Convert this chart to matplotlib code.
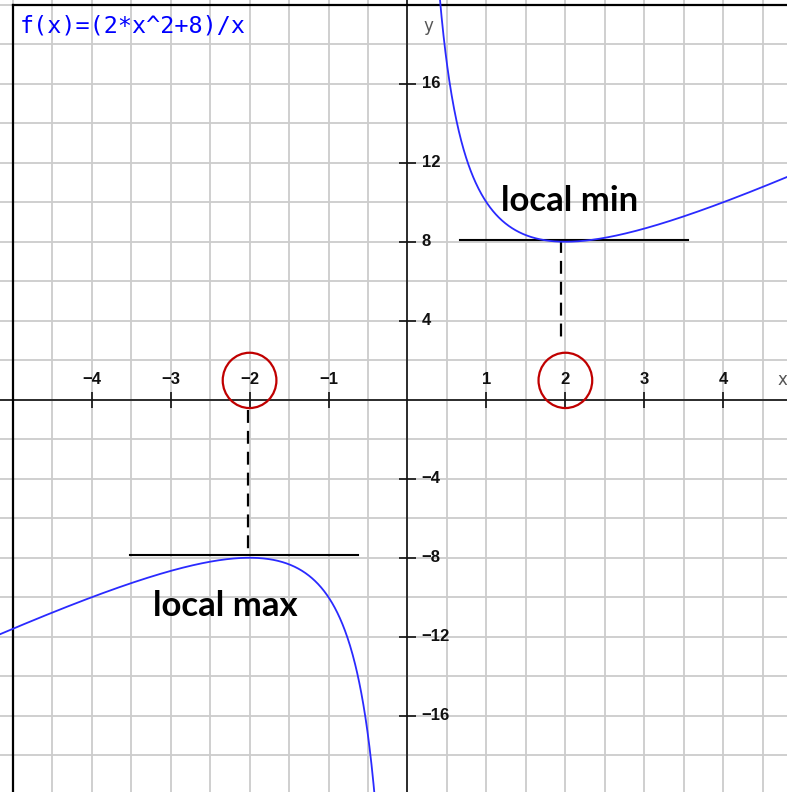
import numpy as np
import matplotlib
matplotlib.use('Agg')
import matplotlib.pyplot as plt
from matplotlib.patches import Ellipse, Rectangle

# function shown in the title: f(x) = (a*x^2 + b)/x
a, b = 2, 8
title = 'f(x)=(2*x^2+8)/x'

x_ticks = [-4, -3, -2, -1, 1, 2, 3, 4]
y_ticks = [-16, -12, -8, -4, 4, 8, 12, 16]

# extrema and the tangent segments drawn through them
ext_x = [-2, 2]
ext_y = [-8, 8]
tangent_y = [-7.84, 8.08]
tangent_x0 = [-3.52, 0.67]
tangent_x1 = [-0.63, 3.55]
ext_labels = ['local max', 'local min']
label_x = [-2.31, 2.06]
label_y = [-10.45, 10.05]

f = lambda x: (a * x**2 + b) / x

fig = plt.figure(figsize=(7.87, 7.92), dpi=100)
ax = fig.add_axes([0, 0, 1, 1])

# grid
ax.set_xticks(np.arange(-5, 5.01, 0.5))
ax.set_yticks(np.arange(-20, 20.1, 2))
ax.grid(True, color='#cccccc', lw=1.3, zorder=0)
ax.tick_params(length=0, labelbottom=False, labelleft=False)
for s in ax.spines.values():
    s.set_visible(False)
ax.set_xlim(-5.161, 4.807)
ax.set_ylim(-19.86, 20.24)

# frame on left and top
ax.plot([-5, -5], [-20, 20], color='black', lw=1.6, zorder=3)
ax.plot([-5, 5], [20, 20], color='black', lw=1.6, zorder=3)

# title box
ax.add_patch(Rectangle((-5, 18.1), 3.0, 1.9, facecolor='white', alpha=0.6,
                       edgecolor='none', zorder=1))
ax.text(-4.91, 18.92, title, family='DejaVu Sans Mono', fontsize=16.8,
        color='#0000ff', ha='left', va='center', zorder=4)

# axes
ax.axhline(0, color='#111111', lw=1.2, zorder=2)
ax.axvline(0, color='#111111', lw=1.2, zorder=2)
ax.vlines(x_ticks, -0.4, 0.4, color='#111111', lw=1.2, zorder=2)
ax.hlines(y_ticks, -0.11, 0.11, color='#111111', lw=1.2, zorder=2)
fmt = lambda v: str(v).replace('-', '\u2212')
for xt in x_ticks:
    ax.text(xt, 1.05, fmt(xt), family='Liberation Sans', fontweight='bold',
            fontsize=12, ha='center', va='center', color='#111111')
for yt in y_ticks:
    ax.text(0.18, yt, fmt(yt), family='Liberation Sans', fontweight='bold',
            fontsize=12, ha='left', va='center', color='#111111')
ax.text(0.26, 18.9, 'y', family='DejaVu Sans', fontsize=12, color='#555555',
        ha='center', va='center')
ax.text(4.75, 0.98, 'x', family='DejaVu Sans', fontsize=12, color='#555555',
        ha='center', va='center')

# curve
xl = np.linspace(-5.2, -0.05, 800)
xr = np.linspace(0.05, 4.9, 800)
ax.plot(xl, f(xl), color='#2a2aff', lw=1.3, zorder=5)
ax.plot(xr, f(xr), color='#2a2aff', lw=1.3, zorder=5)

# tangent lines, dashed drop lines, circles, labels
for i in range(2):
    ax.plot([tangent_x0[i], tangent_x1[i]], [tangent_y[i], tangent_y[i]],
            color='black', lw=1.5, zorder=4)
    ax.add_patch(Ellipse((ext_x[i], 0.98), 0.68, 2.8, fill=False,
                         edgecolor='#c00000', lw=1.6, zorder=6))
    ax.text(label_x[i], label_y[i], ext_labels[i], family='Lato',
            fontweight='bold', fontsize=25, ha='center', va='center', zorder=6)
ax.plot([ext_x[0] - 0.02, ext_x[0] - 0.02], [-0.5, tangent_y[0]], color='black',
        lw=1.6, dashes=(5.8, 3.6), zorder=4)
ax.plot([ext_x[1] - 0.05, ext_x[1] - 0.05], [tangent_y[1], 2.8], color='black',
        lw=1.6, dashes=(5.8, 3.6), zorder=4)

fig.savefig('out.png', dpi=100)
